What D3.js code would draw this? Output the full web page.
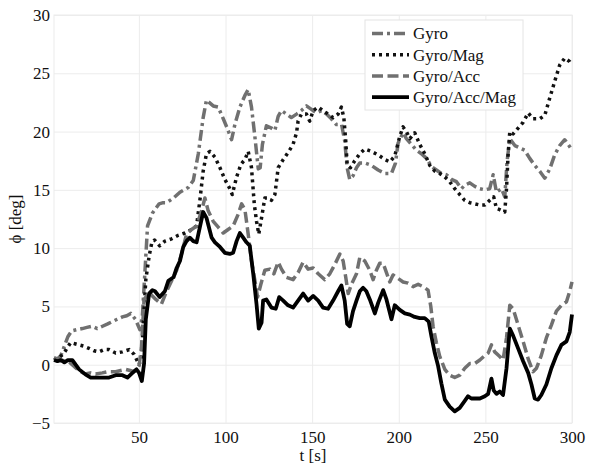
<!DOCTYPE html>
<html>
<head>
<meta charset="utf-8">
<script src="https://cdn.jsdelivr.net/npm/d3@7"></script>
<style>
  body { margin: 0; background: #fff; }
  text { font-family: "Liberation Serif", "Times New Roman", serif; fill: #111; }
</style>
</head>
<body>
<div id="chart"></div>
<script>
// series values, [t, phi]
const gyro = [[1,0.5],[3,0.5],[5,0.8],[7,1.6],[9,2.4],[11.2,2.9],[14,3.0],[17.4,3.1],[20,3.2],[23,3.3],[26,3.1],[29,3.3],[32,3.5],[34.7,3.7],[37.5,3.9],[40.5,4.1],[43,4.2],[45.3,4.4],[48,3.9],[50.6,3.0],[52,4.2],[53,6.7],[55,11.9],[57.8,13],[61.7,13.8],[64,13.9],[66,13.9],[70,14.3],[73.7,14.8],[78.5,15.2],[81.4,15.8],[84.3,18.1],[87.1,21.2],[89,22.7],[92.9,22.2],[95.8,22.1],[98.7,21.1],[101.5,20.1],[103.5,19.3],[105.4,20.6],[108.3,22.1],[111.2,23.1],[113.1,23.6],[115,22.1],[117,19.5],[118.9,16.8],[120,16.9],[121.3,18.9],[123.6,20.5],[126.5,20.3],[128.5,20.1],[130.4,21.3],[132.3,21.8],[135.2,21.5],[138,21.2],[141,21.5],[143.8,21.8],[146.7,22.2],[149.6,21.9],[152.5,21.6],[155.4,21.8],[158.3,21.5],[161.1,21.1],[164,20.6],[167,20.6],[168.8,19.2],[170.2,16.9],[171.7,15.9],[173.6,16.2],[175.6,16.9],[177.5,17.3],[180.4,17.3],[184.2,17.1],[188.1,16.7],[192,16.4],[195.8,16.4],[198.1,17.3],[199.6,19.0],[202.5,19.9],[204.4,19.4],[207.3,18.9],[210.2,18.4],[213.1,18.1],[216,17.7],[218.9,17.0],[221.7,16.7],[224.6,16.4],[227.5,16.3],[230.4,15.9],[233.3,15.7],[236.2,15.1],[238.1,15.4],[241,15.6],[243.9,15.3],[246.8,15.1],[249.7,15.0],[252.5,15.1],[254.5,16.3],[256.4,14.8],[259.3,15.1],[261.2,14.4],[262.5,17.4],[264.1,19.4],[267,18.8],[269.8,18.6],[272.7,18.4],[275.6,17.7],[278.5,17.1],[281.4,16.6],[284.3,16.0],[287.2,16.8],[290,18.0],[292.9,18.8],[295.8,19.3],[298.7,18.7],[300,18.4]];

const gyroMag = [[1,0.4],[4,0.6],[6.8,1.0],[10.6,1.9],[13,1.8],[15.5,1.7],[18,1.6],[21.2,1.4],[24,1.2],[27,1.1],[30,1.3],[32.8,1.3],[36.6,1.0],[40.5,1.1],[44.4,1.3],[47.2,0.9],[50.1,0],[51.5,0.6],[52.5,3.5],[54,7.3],[55.9,9.3],[57.5,10.5],[59,10.7],[62,10.2],[65,10.6],[68.9,10.8],[72.7,11.1],[76.6,11.3],[80.4,11.6],[83.3,11.9],[85.2,14.1],[87.1,16.6],[89,18.1],[91,18.3],[93.9,17.8],[96.8,16.9],[99.6,15.9],[102.5,15.1],[103.9,14.6],[106.4,16.1],[108.9,17.2],[111.2,17.6],[113.1,18.3],[115,16.9],[116.6,13.8],[117.9,12.3],[119.2,11.2],[120.8,12.6],[122.7,14.3],[124.6,14.3],[126.5,14.1],[128.5,14.6],[130.4,16.9],[133.3,17.6],[136.1,18.2],[139,18.9],[141,19.9],[141.9,20.9],[143.8,21.5],[146.7,21.5],[148.6,20.9],[150.6,21.8],[153.5,22.1],[156.3,21.8],[159.2,21.5],[162.1,21.2],[165,21.5],[166.9,22.1],[168.3,21.2],[169.4,19.2],[170.2,17.2],[172.1,16.9],[174.6,17.5],[177.5,18.1],[180.4,18.5],[184.2,18.3],[188.1,18.0],[192,17.6],[194.8,17.4],[197.7,17.9],[200.6,19.6],[202.5,20.4],[204.4,20.0],[206.4,19.4],[209.2,19.9],[212.1,18.9],[215,18.1],[217.9,17.1],[220.8,16.6],[223.7,16.4],[226.6,16.1],[229.4,15.7],[232.3,15.1],[235.2,14.6],[238.1,14.1],[241,13.9],[243.9,13.8],[246.8,13.7],[249.7,13.7],[252.5,14.1],[254.8,14.4],[256.4,13.4],[258.3,13.3],[261.2,13.1],[262.2,15.1],[263.1,18],[264.1,20],[266,19.8],[268.9,20.3],[271.8,20.8],[274.7,21.6],[277.5,21.1],[281.4,21.1],[284.3,21.4],[287.2,22.9],[290,24.3],[292.9,25.7],[295.8,26.3],[298.7,26.0],[300,25.7]];

const gyroAcc = [[1,0.6],[5,0.4],[8,0.3],[10,0.2],[13,-0.2],[16.4,-0.6],[19,-0.8],[22,-0.7],[25,-0.8],[28.9,-0.7],[32,-0.6],[36.6,-0.6],[39.5,-0.5],[42.4,-0.4],[45,-0.5],[47.2,-0.6],[50.1,-0.1],[51.5,1.5],[53,5.6],[55.9,6.2],[57.8,5.9],[59.8,5.6],[63,5.2],[66,6.3],[68.9,7.2],[71.8,8.1],[74.6,9.5],[77.5,11.2],[80.4,11.6],[83.3,11.9],[86.2,13.2],[88.1,14.3],[90,13.2],[92.9,12.3],[95.8,11.8],[98.7,11.3],[101.5,11.6],[104.4,11.9],[107.3,12.9],[109.3,13.8],[111.2,13.3],[113.1,11.2],[115,8.9],[117,7.2],[118.5,5.8],[120.4,6.9],[122.7,8.1],[125.6,8.2],[127.9,7.8],[130.4,8.8],[132.3,8.2],[135.2,7.5],[139,7.3],[141.9,7.9],[144.8,8.8],[147.7,8.2],[150.6,8.3],[153.5,7.8],[157.3,7.3],[160.2,7.8],[163.1,8.6],[166,9.5],[167.9,8.9],[169.4,7.5],[170.8,6.1],[172.7,6.9],[175.6,7.8],[177.5,9.2],[180.4,8.9],[183.3,8.1],[185.2,7.3],[187.1,8.1],[189,8.7],[191,8.7],[192.9,7.9],[194.8,7.1],[196.7,7.7],[199.6,7.4],[202.5,7.1],[205.4,7.0],[208.3,6.7],[211.2,6.9],[214,6.7],[216.9,6.4],[218.5,5.0],[219.8,3.3],[221.7,1.9],[223.7,0.7],[226.6,-0.4],[229.4,-0.9],[232.3,-1.1],[235.2,-0.9],[238.1,-0.3],[241,0.1],[243.9,0.1],[246.8,0.4],[249.7,0.8],[251.6,1.0],[253.5,1.7],[255.4,1.1],[258.3,0.7],[260.2,0.4],[262.2,2.3],[264.1,5.1],[266,4.8],[268.9,3.4],[271.8,2.0],[274.7,0.5],[277.5,-0.6],[279.5,-0.3],[282.3,0.8],[285.2,2.3],[288.1,3.4],[291,4.6],[293.9,5.1],[296.8,5.4],[298.7,6.3],[300,7.1]];

const gyroAccMag = [[1,0.4],[3,0.3],[5,0.4],[7,0.2],[9,0.4],[11.6,0.4],[13.5,0.0],[15.5,-0.4],[19.3,-0.85],[22.2,-1.1],[25.1,-1.1],[28.9,-1.1],[32.8,-1.1],[36.6,-0.9],[40.5,-0.9],[43.4,-1.1],[46.3,-0.7],[48.6,-0.4],[50.1,-0.7],[51.7,-1.4],[53,0.1],[54,3.9],[55.9,6.1],[57.8,6.4],[59.3,6.3],[62,5.8],[65,6.3],[67,7.2],[70,7.5],[71.8,8.3],[73.7,8.9],[75.6,10.1],[77.5,10.6],[79.4,10.9],[81.4,10.6],[83.3,10.5],[85.2,11.8],[87.1,13.1],[89,12.6],[92,10.9],[93.9,10.5],[96.8,10.1],[99.6,9.6],[102.5,9.5],[104.4,9.6],[106.4,10.6],[108.3,11.3],[110.2,10.9],[112.1,10.5],[114,10.2],[116,7.8],[117.9,5.2],[119.2,3.1],[120.8,3.6],[121.7,5.5],[123.6,5.6],[126.5,4.9],[129,4.8],[131,5.8],[133.3,5.5],[136.1,5.1],[139,4.9],[141.9,5.5],[144.8,6.1],[147.7,5.5],[150.6,5.9],[153.5,5.5],[156.3,4.9],[159.2,4.8],[162.1,5.5],[165,6.3],[166.9,6.8],[168.8,5.5],[170.2,3.5],[171.7,3.3],[173.6,4.6],[175.6,5.5],[177.5,6.3],[179.4,6.6],[181.3,6.3],[183.3,5.6],[186.2,4.4],[188.1,5.3],[191,6.4],[192.9,5.6],[195.8,3.9],[197.7,5.1],[200.6,4.7],[203.5,4.4],[206.4,4.3],[209.2,4.1],[212.1,4.0],[215,4.0],[217.3,3.7],[218.9,2.4],[220.8,1.0],[222.7,-0.1],[224.6,-1.6],[226.6,-3.0],[229.4,-3.6],[232.3,-4.0],[235.2,-3.7],[238.1,-3.1],[240,-2.7],[241.9,-2.9],[243.9,-2.9],[246.8,-2.9],[249.7,-2.7],[251.6,-2.5],[253.5,-1.2],[254.8,-2.2],[256.4,-2.5],[258.3,-2.3],[260.2,-2.6],[262.2,-0.3],[264.1,3.1],[266,2.5],[268.9,1.4],[271.8,0.3],[274.7,-0.7],[276.6,-1.7],[278.5,-2.9],[280.4,-3.0],[282.3,-2.6],[285.2,-1.7],[288.1,-0.3],[291,0.8],[293.9,1.7],[296.8,2.0],[298.7,2.8],[300,4.3]];

const names = ['Gyro', 'Gyro/Mag', 'Gyro/Acc', 'Gyro/Acc/Mag'];
const xTicks = [50, 100, 150, 200, 250, 300];
const yTicks = [-5, 0, 5, 10, 15, 20, 25, 30];

const series = [
  { name: names[0], data: gyro,       color: '#707070', width: 3.5, dash: '11,4,3,4' },
  { name: names[1], data: gyroMag,    color: '#111',    width: 3.5, dash: '3,4' },
  { name: names[2], data: gyroAcc,    color: '#707070', width: 3.5, dash: '11,4.5' },
  { name: names[3], data: gyroAccMag, color: '#000',    width: 3.8, dash: null }
];

const W = 592, H = 466;
const margin = { top: 15, right: 20, bottom: 43, left: 54 };
const width  = W - margin.left - margin.right;
const height = H - margin.top  - margin.bottom;

const x = d3.scaleLinear().domain([1, 300]).range([0, width]);
const y = d3.scaleLinear().domain([-5, 30]).range([height, 0]);

const svg = d3.select('#chart').append('svg')
    .attr('width', W)
    .attr('height', H)
  .append('g')
    .attr('transform', `translate(${margin.left},${margin.top})`);

// grid
svg.append('g')
    .attr('transform', `translate(0,${height})`)
    .call(d3.axisBottom(x).tickValues(xTicks).tickSize(-height).tickPadding(8))
    .call(g => g.select('.domain').remove())
    .call(g => g.selectAll('line').attr('stroke', '#ececec'))
    .call(g => g.selectAll('text').style('font-size', '17px').attr('fill', '#111'));

svg.append('g')
    .call(d3.axisLeft(y).tickValues(yTicks).tickSize(-width).tickPadding(4))
    .call(g => g.select('.domain').remove())
    .call(g => g.selectAll('line').attr('stroke', '#ececec'))
    .call(g => g.selectAll('text').style('font-size', '17px').attr('fill', '#111'));

svg.append('rect')
    .attr('width', width).attr('height', height)
    .attr('fill', 'none').attr('stroke', '#ececec');

const line = d3.line().x(d => x(d[0])).y(d => y(d[1]));

svg.selectAll('path.series')
  .data(series)
  .join('path')
    .attr('class', 'series')
    .attr('d', d => line(d.data))
    .attr('fill', 'none')
    .attr('stroke', d => d.color)
    .attr('stroke-width', d => d.width)
    .attr('stroke-dasharray', d => d.dash)
    .attr('stroke-linejoin', 'round');

// axis labels
svg.append('text')
    .attr('x', width / 2).attr('y', height + 38)
    .attr('text-anchor', 'middle')
    .style('font-size', '17px')
    .text('t [s]');

svg.append('text')
    .attr('transform', `translate(${-33},${height / 2}) rotate(-90)`)
    .attr('text-anchor', 'middle')
    .style('font-size', '17px')
    .text('ϕ [deg]');

// legend
const lg = svg.append('g').attr('transform', `translate(${365 - margin.left},${20 - margin.top})`);
lg.append('rect')
    .attr('width', 158).attr('height', 90)
    .attr('fill', '#fff').attr('stroke', '#e4e4e4');

const row = lg.selectAll('g.row')
  .data(series)
  .join('g')
    .attr('class', 'row')
    .attr('transform', (d, i) => `translate(0,${13.5 + i * 21.2})`);

row.append('line')
    .attr('x1', 7).attr('x2', 44)
    .attr('stroke', d => d.color)
    .attr('stroke-width', d => d.width)
    .attr('stroke-dasharray', d => d.dash);

row.append('text')
    .attr('x', 48).attr('dy', '0.35em')
    .style('font-size', '17px')
    .text(d => d.name);
</script>
</body>
</html>
